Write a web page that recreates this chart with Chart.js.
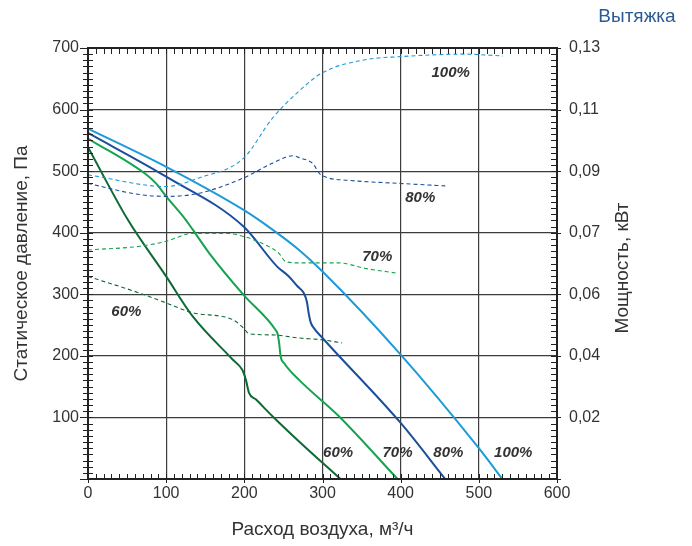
<!DOCTYPE html>
<html>
<head>
<meta charset="utf-8">
<script src="https://cdn.jsdelivr.net/npm/chart.js@4/dist/chart.umd.min.js"></script>
<style>
  html, body { margin: 0; padding: 0; background: #fff; }
  #wrap { width: 692px; height: 546px; }
</style>
</head>
<body>
<div id="wrap"><canvas id="fanChart" width="692" height="546"></canvas></div>
<script>
// Давление (сплошные линии), Па
const p60X = [0, 51, 100, 134, 185, 197.5, 202, 206, 215, 236, 270, 323];
const p60Y = [539, 421, 329, 264, 194, 177, 161, 140, 129, 102, 61, 0];
const p70X = [0, 78, 87, 100, 125, 134, 155, 199, 240, 242.5, 244.5, 246.5, 251, 270, 321, 396];
const p70Y = [553, 491, 480, 459, 421, 405, 367, 299, 242, 236, 221, 199, 188, 161, 102, 0];
const p80X = [0, 100, 199, 242, 257, 268, 276, 280, 282.5, 285, 289, 300, 400, 457];
const p80Y = [562, 491, 410, 345, 329, 313, 302, 288, 268, 254, 245, 229, 91, 0];
const p100X = [0, 100, 199, 236, 270, 300, 400, 500, 530];
const p100Y = [569, 507, 437, 405, 372, 337, 202, 50, 0];

// Мощность (пунктир), в делениях шкалы давления
const w60X = [0, 66, 100, 134, 185, 199, 206, 236, 270, 300, 325];
const w60Y = [329, 302, 286, 270, 259, 245, 236, 234, 229, 226, 221];
const w70X = [0, 66, 100, 134, 176, 199, 227, 244, 253, 270, 321, 355, 397];
const w70Y = [372, 378, 386, 399, 399, 394, 380, 367, 353, 351, 351, 342, 334];
const w80X = [0, 66, 100, 142, 199, 236, 262, 272, 287, 298, 334, 400, 457];
const w80Y = [480, 462, 459, 464, 489, 513, 525, 521, 513, 494, 485, 480, 476];
const w100X = [0, 100, 142, 199, 236, 270, 300, 355, 400, 482, 531];
const w100Y = [494, 475, 489, 521, 586, 630, 660, 681, 686, 690, 687];

// Подписи шкал
const powerTicks = ['', '0,02', '0,04', '0,06', '0,07', '0,09', '0,11', '0,13'];
const speedNames = ['60%', '70%', '80%', '100%'];
const speedColors = ['#0d6a35', '#14a34f', '#1b4e9b', '#1d9ad8'];

// Положение подписей (в единицах осей)
const pressLabelX = [320, 396, 461, 544];
const pressLabelY = [43, 43, 43, 43];
const powerLabelX = [49, 370, 425, 464];
const powerLabelY = [272, 361, 456, 660];

function toPoints(xs, ys) {
    return xs.map((x, i) => ({ x: x, y: ys[i] }));
}

const pressSeries = [[p60X, p60Y], [p70X, p70Y], [p80X, p80Y], [p100X, p100Y]];
const powerSeries = [[w60X, w60Y], [w70X, w70Y], [w80X, w80Y], [w100X, w100Y]];

const datasets = [];
powerSeries.forEach((s, i) => {
    datasets.push({
        label: 'N ' + speedNames[i],
        data: toPoints(s[0], s[1]),
        borderColor: speedColors[i],
        borderWidth: 1.1,
        borderDash: [4, 3],
        pointRadius: 0,
        cubicInterpolationMode: 'monotone',
        yAxisID: 'y2'
    });
});
pressSeries.forEach((s, i) => {
    datasets.push({
        label: 'P ' + speedNames[i],
        data: toPoints(s[0], s[1]),
        borderColor: speedColors[i],
        borderWidth: 2,
        pointRadius: 0,
        cubicInterpolationMode: 'monotone',
        yAxisID: 'y'
    });
});

const FONT = "'Liberation Sans', Arial, sans-serif";
const TEXT = '#333';
const GRID = '#3c3c3c';

// Рамка, мелкие риски, подписи кривых
const decorPlugin = {
    id: 'decor',
    afterDraw(chart) {
        const ctx = chart.ctx;
        const a = chart.chartArea;
        const sx = chart.scales.x, sy = chart.scales.y;
        ctx.save();
        ctx.strokeStyle = '#222';
        ctx.lineWidth = 1;
        for (let v = 0; v <= 600; v += 10) {
            const px = Math.round(sx.getPixelForValue(v)) + 0.5;
            const major = v % 100 === 0;
            ctx.beginPath();
            ctx.moveTo(px, a.bottom + (major ? 4 : 1));
            ctx.lineTo(px, a.bottom - 5);
            ctx.moveTo(px, a.top);
            ctx.lineTo(px, a.top + 6);
            ctx.stroke();
        }
        for (let v = 0; v <= 700; v += 10) {
            const py = Math.round(sy.getPixelForValue(v)) + 0.5;
            const major = v % 100 === 0;
            ctx.beginPath();
            ctx.moveTo(a.left - (major ? 8 : 5), py);
            ctx.lineTo(a.left + 5, py);
            ctx.moveTo(a.right - 6, py);
            ctx.lineTo(a.right + (major ? 4 : 0), py);
            ctx.stroke();
        }
        ctx.lineWidth = 2;
        ctx.strokeRect(a.left, a.top, a.right - a.left, a.bottom - a.top);

        ctx.fillStyle = TEXT;
        ctx.font = 'italic bold 15px ' + FONT;
        ctx.textAlign = 'center';
        ctx.textBaseline = 'middle';
        speedNames.forEach((name, i) => {
            ctx.fillText(name, sx.getPixelForValue(pressLabelX[i]), sy.getPixelForValue(pressLabelY[i]));
            ctx.fillText(name, sx.getPixelForValue(powerLabelX[i]), sy.getPixelForValue(powerLabelY[i]));
        });

        ctx.font = '19px ' + FONT;
        ctx.translate(623, 268);
        ctx.rotate(-Math.PI / 2);
        ctx.fillText('Мощность, кВт', 0, 0);
        ctx.restore();

        ctx.save();
        ctx.fillStyle = '#2c5a97';
        ctx.font = '19px ' + FONT;
        ctx.textAlign = 'center';
        ctx.textBaseline = 'middle';
        ctx.fillText('Вытяжка', 637, 17);
        ctx.restore();
    }
};

new Chart(document.getElementById('fanChart'), {
    type: 'line',
    data: { datasets: datasets },
    options: {
        responsive: false,
        animation: false,
        events: [],
        layout: { padding: { top: 48, left: 0, right: 0, bottom: 0 } },
        plugins: { legend: { display: false }, tooltip: { enabled: false } },
        scales: {
            x: {
                type: 'linear', min: 0, max: 600,
                afterFit: s => { s.height = 67; },
                ticks: { stepSize: 100, color: TEXT, font: { family: FONT, size: 16 }, padding: 5, maxRotation: 0 },
                grid: { color: GRID, lineWidth: 1.2, drawTicks: false },
                border: { display: false },
                title: { display: true, text: 'Расход воздуха, м³/ч', color: TEXT, font: { family: FONT, size: 19 }, padding: { top: 0, bottom: 5 } }
            },
            y: {
                type: 'linear', min: 0, max: 700, position: 'left',
                afterFit: s => { s.width = 88; },
                ticks: { stepSize: 100, color: TEXT, font: { family: FONT, size: 16 }, padding: 9,
                    callback: v => (v === 0 ? '' : v) },
                grid: { color: GRID, lineWidth: 1.2, drawTicks: false },
                border: { display: false },
                title: { display: true, text: 'Статическое давление, Па', color: TEXT, font: { family: FONT, size: 19 }, padding: { top: 10, bottom: 0 } }
            },
            y2: {
                type: 'linear', min: 0, max: 700, position: 'right',
                afterFit: s => { s.width = 135; },
                ticks: { stepSize: 100, color: TEXT, font: { family: FONT, size: 16 }, padding: 12,
                    callback: v => powerTicks[Math.round(v / 100)] },
                grid: { drawOnChartArea: false, drawTicks: false },
                border: { display: false }
            }
        }
    },
    plugins: [decorPlugin]
});
</script>
</body>
</html>
